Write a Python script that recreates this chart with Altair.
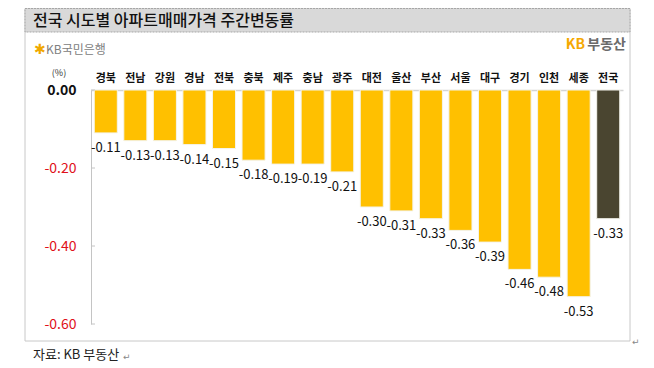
import altair as alt
import pandas as pd

regions = ["경북", "전남", "강원", "경남", "전북", "충북", "제주", "충남", "광주",
           "대전", "울산", "부산", "서울", "대구", "경기", "인천", "세종", "전국"]
values = [-0.11, -0.13, -0.13, -0.14, -0.15, -0.18, -0.19, -0.19, -0.21,
          -0.30, -0.31, -0.33, -0.36, -0.39, -0.46, -0.48, -0.53, -0.33]
y_ticks = [0.0, -0.2, -0.4, -0.6]

FONT = "Noto Sans CJK KR"

df = pd.DataFrame({
    "region": regions,
    "value": values,
    "label": [f"{v:.2f}" for v in values],
    "kind": ["nat" if r == "전국" else "reg" for r in regions],
})
tick_df = pd.DataFrame({"t": y_ticks})

W, H = 532, 234

x_enc = alt.X("region:N", sort=regions,
              scale=alt.Scale(paddingInner=0.22, paddingOuter=0.11),
              axis=alt.Axis(orient="top", title=None, ticks=False, domain=True,
                            domainColor="#d4d4d4", domainWidth=1.5,
                            labelAngle=0, labelFont=FONT, labelFontSize=11,
                            labelFontWeight="bold", labelColor="#111111",
                            labelPadding=7))
y_scale = alt.Scale(domain=[-0.6, 0.0], nice=False, zero=False)
y_enc = alt.Y("value:Q", scale=y_scale,
              axis=alt.Axis(title=None, values=y_ticks, ticks=False, grid=False,
                            domainColor="#c4c4c4", labelFont=FONT,
                            labelFontSize=14, labelPadding=15,
                            labelExpr="replace(format(datum.value, '.2f'), '\u2212', '-')",
                            labelColor=alt.expr("datum.value == 0 ? '#111111' : '#e0101a'"),
                            labelFontWeight=alt.expr("datum.value == 0 ? 'bold' : 'normal'")))

base = alt.Chart(df)

bars = base.mark_bar(stroke="#f4f4ec", strokeWidth=1).encode(
    x=x_enc,
    y=y_enc,
    color=alt.Color("kind:N", scale=alt.Scale(domain=["reg", "nat"],
                                              range=["#ffc000", "#4a4530"]),
                    legend=None),
)

labels = base.mark_text(baseline="top", dy=9, font=FONT, fontSize=13,
                        color="#111111").encode(
    x=alt.X("region:N", sort=regions),
    y=alt.Y("value:Q", scale=y_scale),
    text="label:N",
)

ticks = alt.Chart(tick_df).mark_rule(color="#c4c4c4").encode(
    y=alt.Y("t:Q", scale=y_scale),
    x=alt.value(0), x2=alt.value(4),
)

# decorations (frame, title bar, logos, footnote)
deco = pd.DataFrame({"d": [0]})
frame = alt.Chart(deco).mark_rect(fill="transparent", stroke="#c8c8c8",
                                  strokeWidth=1).encode(
    x=alt.value(-66), x2=alt.value(539), y=alt.value(-81.5), y2=alt.value(251))
title_bar = alt.Chart(deco).mark_rect(fill="#d9d9d9", stroke="#a6a6a6",
                                      strokeDash=[2, 1], strokeWidth=1).encode(
    x=alt.value(-66), x2=alt.value(539), y=alt.value(-81.5), y2=alt.value(-58))
title_txt = alt.Chart(deco).mark_text(align="left", baseline="middle", font=FONT,
                                      fontSize=16, fontWeight=500,
                                      color="#111111").encode(
    x=alt.value(-58), y=alt.value(-69.5),
    text=alt.value("전국 시도별 아파트매매가격 주간변동률"))
star = alt.Chart(deco).mark_text(align="left", baseline="middle", font="DejaVu Sans",
                                 fontSize=14, color="#f0a800").encode(
    x=alt.value(-57), y=alt.value(-40), text=alt.value("✱"))
kbbank = alt.Chart(deco).mark_text(align="left", baseline="middle", font=FONT,
                                   fontSize=12, color="#808080").encode(
    x=alt.value(-45), y=alt.value(-40), text=alt.value("KB국민은행"))
kb = alt.Chart(deco).mark_text(align="right", baseline="middle", font=FONT,
                               fontSize=14, fontWeight="bold",
                               color="#f5a800").encode(
    x=alt.value(494), y=alt.value(-45), text=alt.value("KB"))
budong = alt.Chart(deco).mark_text(align="right", baseline="middle", font=FONT,
                                   fontSize=14, fontWeight="bold",
                                   color="#6b6b6b").encode(
    x=alt.value(535), y=alt.value(-45), text=alt.value("부동산"))
unit = alt.Chart(deco).mark_text(align="center", baseline="middle", font=FONT,
                                 fontSize=9, color="#333333").encode(
    x=alt.value(-32), y=alt.value(-17), text=alt.value("(%)"))
foot = alt.Chart(deco).mark_text(align="left", baseline="middle", font=FONT,
                                 fontSize=13, color="#222222").encode(
    x=alt.value(-58), y=alt.value(265), text=alt.value("자료: KB 부동산"))
ret1 = alt.Chart(deco).mark_text(align="left", baseline="middle", font="DejaVu Sans",
                                 fontSize=9, color="#888888").encode(
    x=alt.value(32), y=alt.value(267), text=alt.value("↵"))
ret2 = alt.Chart(deco).mark_text(align="left", baseline="middle", font="DejaVu Sans",
                                 fontSize=9, color="#888888").encode(
    x=alt.value(541), y=alt.value(252), text=alt.value("↵"))

chart = alt.layer(
    frame, title_bar, title_txt, star, kbbank, kb, budong, unit, foot, ret1, ret2,
    bars, labels, ticks,
).properties(
    width=W, height=H,
    autosize=alt.AutoSizeParams(type="none"),
    padding={"left": 83, "top": 82, "right": 23, "bottom": 40},
    background="white",
).configure_view(stroke=None)

chart.save("out.html", embed_options={"renderer": "svg", "actions": False})
